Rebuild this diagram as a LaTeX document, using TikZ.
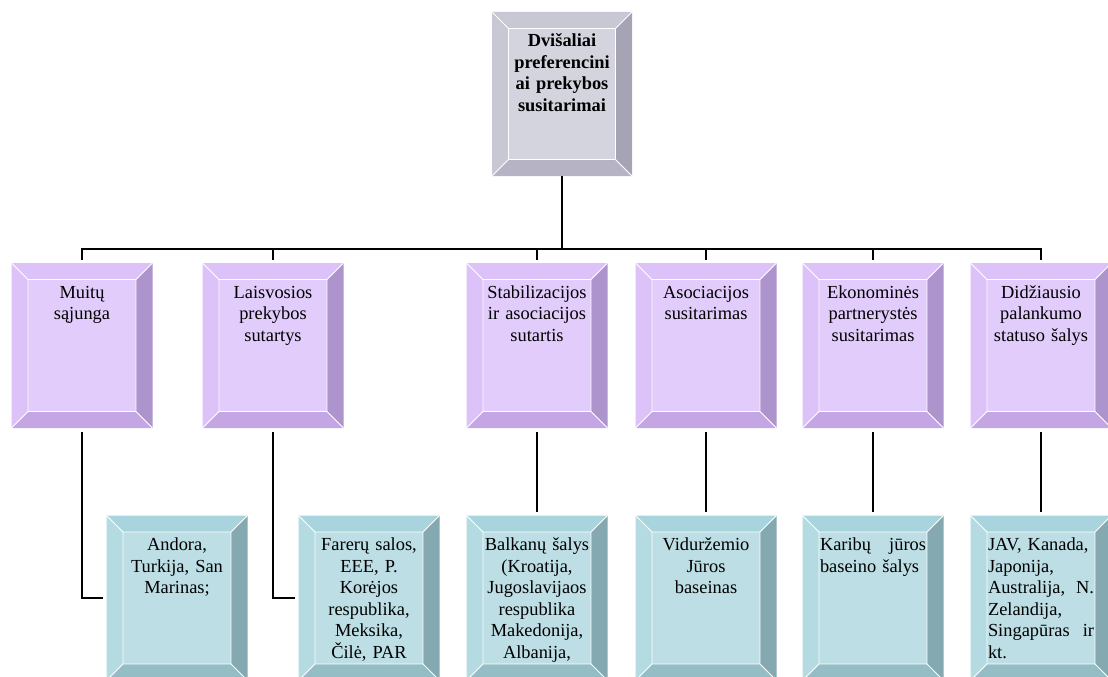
\documentclass[tikz,border=0pt]{standalone}
\usepackage{fontspec}
\setmainfont{Liberation Serif}
\usetikzlibrary{calc}

\definecolor{greyface}{HTML}{D4D4DF}
\definecolor{greytop}{HTML}{C8C8D5}
\definecolor{greyright}{HTML}{A6A3B5}
\definecolor{greybot}{HTML}{B6B3C5}
\definecolor{lilacface}{HTML}{E1CCFB}
\definecolor{lilactop}{HTML}{DCC2F8}
\definecolor{lilacright}{HTML}{AE94CC}
\definecolor{lilacbot}{HTML}{C4A6E4}
\definecolor{aquaface}{HTML}{BCDEE4}
\definecolor{aquatop}{HTML}{A8D5DD}
\definecolor{aqualeft}{HTML}{B4DBE2}
\definecolor{aquaright}{HTML}{84A9B1}
\definecolor{aquabot}{HTML}{94BDC5}

% bevel faces: face, top, left, right, bottom
\newcommand{\bevelpaint}[5]{%
  \coordinate (bnw) at (path picture bounding box.north west);
  \coordinate (bne) at (path picture bounding box.north east);
  \coordinate (bse) at (path picture bounding box.south east);
  \coordinate (bsw) at (path picture bounding box.south west);
  \coordinate (inw) at ([shift={(16.5pt,-16.5pt)}]bnw);
  \coordinate (ine) at ([shift={(-16.5pt,-16.5pt)}]bne);
  \coordinate (ise) at ([shift={(-16.5pt,16.5pt)}]bse);
  \coordinate (isw) at ([shift={(16.5pt,16.5pt)}]bsw);
  \fill[#1] (inw) rectangle (ise);
  \fill[#2] (bnw) -- (bne) -- (ine) -- (inw) -- cycle;
  \fill[#3] (bnw) -- (inw) -- (isw) -- (bsw) -- cycle;
  \fill[#4] (bne) -- (bse) -- (ise) -- (ine) -- cycle;
  \fill[#5] (bsw) -- (isw) -- (ise) -- (bse) -- cycle;
  \draw[white, line width=0.9pt] (inw) rectangle (ise)
    (bnw) -- (inw) (bne) -- (ine) (bse) -- (ise) (bsw) -- (isw);
}

\tikzset{
  bevel/.style n args={5}{rectangle, inner sep=0pt, minimum width=141pt,
    minimum height=165pt, text width=106pt, align=center,
    text height=35pt, text depth=130pt,
    font=\fontsize{18.4}{21.5}\selectfont,
    path picture={\bevelpaint{#1}{#2}{#3}{#4}{#5}}},
  greybox/.style={bevel={greyface}{greytop}{greytop}{greyright}{greybot},
    minimum width=140pt, minimum height=164pt, text depth=129pt,
    font=\bfseries\fontsize{18.4}{21.5}\selectfont},
  lilacbox/.style={bevel={lilacface}{lilactop}{lilactop}{lilacright}{lilacbot}},
  aquabox/.style={bevel={aquaface}{aquatop}{aqualeft}{aquaright}{aquabot}},
  link/.style={draw, black, line width=2pt, shorten >=3pt},
}

\begin{document}
\begin{tikzpicture}[x=1pt, y=-1pt]
	\useasboundingbox (0,0) rectangle (1108,677);

	% Nodes {root, t1..t6, e1..e6}
	\node [greybox]  (root) at (562,94)      {Dvišaliai\\ preferencini\\ ai prekybos\\ susitarimai};

	\node [lilacbox] (t1)   at (82,345.5)    {Muitų\\ sąjunga};
	\node [lilacbox] (t2)   at (273,345.5)   {Laisvosios\\ prekybos\\ sutartys};
	\node [lilacbox] (t3)   at (537,345.5)   {Stabilizacijos\\ ir asociacijos\\ sutartis};
	\node [lilacbox] (t4)   at (706,345.5)   {Asociacijos\\ susitarimas};
	\node [lilacbox] (t5)   at (873,345.5)   {Ekonominės\\ partnerystės\\ susitarimas};
	\node [lilacbox] (t6)   at (1041,345.5)  {Didžiausio\\ palankumo\\ statuso šalys};

	\node [aquabox]  (e1)   at (177,598)     {Andora,\\ Turkija, San\\ Marinas;};
	\node [aquabox]  (e2)   at (369,598)     {Farerų salos,\\ EEE, P.\\ Korėjos\\ respublika,\\ Meksika,\\ Čilė, PAR};
	\node [aquabox]  (e3)   at (537,598)     {Balkanų šalys\\ (Kroatija,\\ Jugoslavijaos\\ respublika\\ Makedonija,\\ Albanija,};
	\node [aquabox]  (e4)   at (706,598)     {Viduržemio\\ Jūros\\ baseinas};
	\node [aquabox, align=left] (e5) at (873,598)  {Karibų \hfill jūros\\ baseino šalys};
	\node [aquabox, align=left] (e6) at (1041,598) {JAV, Kanada,\\ Japonija,\\ Australija, \hfill N.\\ Zelandija,\\ Singapūras \hfill ir\\ kt.};

	% Paths
	\coordinate (bus) at ([yshift=-73pt]root.south);
	\draw [link, shorten >=0pt] (root.south) -- (bus);
	\foreach \t in {t1,t2,t3,t4,t5,t6}
		\draw [link] (bus) -| (\t.north);
	\draw [link, shorten <=4pt] (t1.south) |- (e1.west);
	\draw [link, shorten <=4pt] (t2.south) |- (e2.west);
	\foreach \i in {3,...,6}
		\draw [link, shorten <=4pt] (t\i.south) -- (e\i.north);

\end{tikzpicture}
\end{document}
